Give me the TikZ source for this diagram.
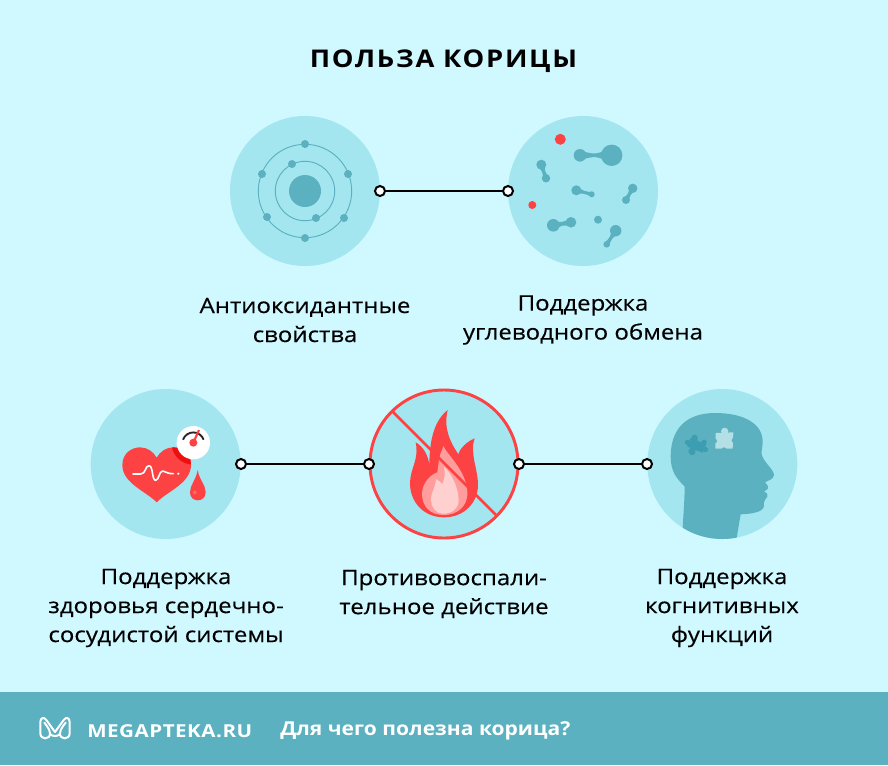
\documentclass[tikz,border=0pt]{standalone}
\usepackage{fontspec}
\setmainfont{Open Sans}
\newfontfamily\bodyf[FakeStretch=1.13,FakeBold=0.25]{Open Sans}
\newfontfamily\titlef[FakeStretch=1.12,LetterSpace=7]{Open Sans}
\newfontfamily\brandf[FakeStretch=1.15,LetterSpace=3]{Open Sans}
\newfontfamily\footf[FakeStretch=1.1]{Open Sans}
\usetikzlibrary{calc}
\definecolor{bgc}{HTML}{CFF8FF}
\definecolor{disc}{HTML}{A3E6F0}
\definecolor{teal1}{HTML}{5BB1BF}
\definecolor{red1}{HTML}{FC4242}
\definecolor{red2}{HTML}{EE1010}
\definecolor{pink1}{HTML}{FF9C9C}
\definecolor{pink2}{HTML}{FFD0D0}
\definecolor{puzl}{HTML}{B4DFE5}
\definecolor{puzd}{HTML}{3C9EB0}
\tikzset{
  discnode/.style={circle,fill=disc,minimum size=112.5pt,inner sep=0pt},
  ringnode/.style={circle,draw=black,fill=white,line width=1.5pt,minimum size=7.5pt,inner sep=0pt},
  linkline/.style={draw=black,line width=1.2pt},
  label/.style={align=center,font=\bodyf\fontsize{15.95pt}{21.75pt}\selectfont,text=black,inner sep=0pt},
  zoomA/.style={x=0.25pt,y=-0.25pt},
}
\newcommand\molc[7]{%
  \coordinate (ma) at (#1,#2);
  \coordinate (mb) at (#4,#5);
  \coordinate (mm) at ($(ma)!.5!(mb)$);
  \pgfmathsetmacro\ra{#3*.75*.75}
  \pgfmathsetmacro\rb{#6*.75*.75}
  \pgfmathsetmacro\wn{#7*.75}
  \fill[teal1] (ma) circle[radius=#3];
  \fill[teal1] (mb) circle[radius=#6];
  \fill[teal1] ($(ma)!\ra pt!90:(mb)$) .. controls ($(mm)!\wn pt!90:(mb)$) and ($(mm)!\wn pt!90:(mb)$) .. ($(mb)!\rb pt!-90:(ma)$)
     -- ($(mb)!\rb pt!90:(ma)$) .. controls ($(mm)!\wn pt!-90:(mb)$) and ($(mm)!\wn pt!-90:(mb)$) .. ($(ma)!\ra pt!-90:(mb)$) -- cycle;
}
\begin{document}
\begin{tikzpicture}[x=0.75pt,y=-0.75pt]
\useasboundingbox (0,0) rectangle (888,765);
\fill[bgc] (0,0) rectangle (888,765);
\fill[teal1] (0,692) rectangle (888,765);

\node[font=\titlef\bfseries\fontsize{18.3pt}{22pt}\selectfont,inner sep=0pt] (title) at (443.5,61) {ПОЛЬЗА КОРИЦЫ};

% discs
\node[discnode] (c1) at (305,191) {};
\node[discnode] (c2) at (583,191) {};
\node[discnode] (c3) at (165.7,464) {};
\node[discnode] (c4) at (444,464) {};
\node[discnode] (c5) at (722.3,464) {};

% atom
\fill[teal1] (c1.center) circle[radius=16];
\draw[teal1,line width=.7pt] (c1.center) circle[radius=29.7];
\draw[teal1,line width=.7pt] (c1.center) circle[radius=46.7];
\foreach \p in {(305,144),(262,174),(348,174),(267,217),(344,218),(305,238),(292,164),(316,218)}
  \fill[teal1] \p circle[radius=4];

% molecules
\fill[red1] (560.3,139.3) circle[radius=5.5];
\fill[red1] (532.3,205) circle[radius=4];
\molc{580}{155.3}{6.3}{611.7}{155.3}{10.7}{.4}
\molc{541.3}{164.7}{5}{546}{178.3}{4.2}{1}
\molc{576.3}{190.3}{5}{591.7}{194.3}{3}{1}
\molc{632.7}{188.3}{4.7}{626}{200}{4}{1}
\molc{553.3}{225.3}{6.3}{571}{222.3}{5.3}{1}
\molc{615.7}{230.7}{5.7}{606.7}{244.3}{3.3}{1}
\fill[teal1] (598,219.7) circle[radius=4];

% heart
\begin{scope}[shift={(90,385)},zoomA]
  \path[fill=red1] (200,352) .. controls (170,320) and (97,295) .. (97,240)
    .. controls (97,205) and (125,187) .. (150,187)
    .. controls (172,187) and (190,200) .. (200,218)
    .. controls (210,200) and (228,187) .. (250,187)
    .. controls (278,187) and (303,205) .. (303,240)
    .. controls (303,295) and (230,320) .. (200,352) -- cycle;
  \begin{scope}
    \clip (200,352) .. controls (170,320) and (97,295) .. (97,240)
    .. controls (97,205) and (125,187) .. (150,187)
    .. controls (172,187) and (190,200) .. (200,218)
    .. controls (210,200) and (228,187) .. (250,187)
    .. controls (278,187) and (303,205) .. (303,240)
    .. controls (303,295) and (230,320) .. (200,352) -- cycle;
    \fill[red2] (310,173) circle[radius=66];
  \end{scope}
  \fill[white] (310,173) circle[radius=50];
  \draw[black!85,line width=1.4pt] (279,164) .. controls (290,135) and (330,135) .. (341,164);
  \draw[red1,line width=1.6pt] (310,173) -- (327,135);
  \fill[red1] (310,173) circle[radius=12];
  \draw[white,line width=1.2pt,line cap=round,line join=round] (129,267) -- (152,267)
    .. controls (168,267) and (165,242) .. (177,242)
    .. controls (190,242) and (185,286) .. (197,286)
    .. controls (207,286) and (207,258) .. (218,258)
    .. controls (228,258) and (230,267) .. (250,266);
  \fill[white] (265,266) circle[radius=3.5];
  \fill[red1] (323,255) .. controls (318,285) and (300,300) .. (300,322)
    .. controls (300,338) and (312,346) .. (323,346)
    .. controls (335,346) and (347,338) .. (347,322)
    .. controls (347,300) and (328,285) .. (323,255) -- cycle;
  \fill[red1!60!pink1] (314,322) circle[radius=6];
\end{scope}

% flame
\begin{scope}[shift={(360,385)},zoomA]
  \draw[red1,line width=2.2pt] (252,237) circle[radius=222];
  \fill[red1] (252,397) .. controls (190,397) and (150,350) .. (150,295)
    .. controls (150,250) and (178,225) .. (167,172)
    .. controls (190,185) and (205,210) .. (208,242)
    .. controls (208,160) and (225,105) .. (263,75)
    .. controls (250,130) and (270,170) .. (295,208)
    .. controls (300,190) and (320,170) .. (344,160)
    .. controls (328,205) and (354,250) .. (354,300)
    .. controls (354,350) and (315,397) .. (252,397) -- cycle;
  \fill[pink1] (252,390) .. controls (210,390) and (186,365) .. (186,325)
    .. controls (186,295) and (212,268) .. (232,262)
    -- (237,222)
    .. controls (240,205) and (247,195) .. (250,183)
    .. controls (262,210) and (318,255) .. (322,320)
    .. controls (325,365) and (290,390) .. (252,390) -- cycle;
  \draw[red1,line width=1.9pt] (98,80) -- (408,390);
  \fill[pink2] (252,386) .. controls (225,386) and (213,365) .. (213,345)
    .. controls (213,320) and (228,305) .. (228,282)
    .. controls (236,287) and (243,292) .. (247,297)
    .. controls (255,280) and (255,262) .. (252,245)
    .. controls (275,265) and (296,310) .. (296,345)
    .. controls (296,370) and (275,386) .. (252,386) -- cycle;
\end{scope}

% head
\begin{scope}
  \clip (c5.center) circle[radius=75];
  \begin{scope}[shift={(640,385)},zoomA]
    \fill[teal1] (125,470) -- (128,428) .. controls (130,390) and (134,340) .. (134,305)
      .. controls (110,280) and (92,260) .. (92,215)
      .. controls (92,130) and (140,84) .. (225,84)
      .. controls (310,84) and (368,115) .. (368,170)
      .. controls (368,190) and (362,200) .. (366,212)
      .. controls (375,235) and (402,255) .. (402,270)
      .. controls (400,285) and (385,285) .. (375,292)
      .. controls (382,298) and (386,305) .. (384,310)
      .. controls (382,316) and (376,316) .. (372,319)
      .. controls (380,322) and (386,328) .. (382,335)
      .. controls (378,342) and (372,345) .. (372,352)
      .. controls (374,370) and (370,385) .. (302,388)
      -- (288,470) -- cycle;
  \end{scope}
\end{scope}
\begin{scope}[shift={(680,422)},zoomA]
  % light puzzle piece
  \fill[puzl] (107,33) -- (160,31) -- (158,80) -- (106,80) -- cycle;
  \fill[puzl] (134,28) circle[radius=11];
  \fill[teal1] (132,84) circle[radius=8];
  \fill[teal1] (163,55) circle[radius=8];
  \fill[teal1] (104,57) circle[radius=7];
  \fill[puzl] (146,62) circle[radius=6];
  % dark puzzle piece
  \begin{scope}[shift={(50,70)},rotate=-22]
    \fill[puzd] (-25,-14) rectangle (25,14);
    \fill[puzd] (-14,-18) circle[radius=10];
    \fill[puzd] (17,-17) circle[radius=8];
    \fill[puzd] (29,2) circle[radius=8];
    \fill[puzd] (-6,22) circle[radius=11];
    \fill[puzd] (-29,2) circle[radius=8];
  \end{scope}
\end{scope}

% rings and links
\node[ringnode] (r1) at (380,191) {};
\node[ringnode] (r2) at (508,191) {};
\node[ringnode] (r3) at (241,464) {};
\node[ringnode] (r4) at (369,464) {};
\node[ringnode] (r5) at (519,464) {};
\node[ringnode] (r6) at (647,464) {};
\draw[linkline] (r1) -- (r2);
\draw[linkline] (r3) -- (r4);
\draw[linkline] (r5) -- (r6);

% labels
\node[label] (t1) at (305,320) {Антиоксидантные\\свойства};
\node[label] (t2) at (583,320) {Поддержка\\углеводного обмена};
\node[label] (t3) at (166,608) {Поддержка\\здоровья сердечно-\\сосудистой системы};
\node[label] (t4) at (444,594) {Противовоспали-\\тельное действие};
\node[label] (t5) at (722,608) {Поддержка\\когнитивных\\функций};

% footer logo
\begin{scope}[shift={(35,712)},zoomA]
  \draw[white,line width=1.5pt,line join=round,line cap=round]
    (60,60) -- (34,24) .. controls (26,13) and (16,18) .. (16,30) -- (16,64)
    .. controls (16,84) and (46,84) .. (45,64) .. controls (44,52) and (36,42) .. (28,32)
    (60,60) -- (86,24) .. controls (94,13) and (104,18) .. (104,30) -- (104,64)
    .. controls (104,84) and (74,84) .. (75,64) .. controls (76,52) and (84,42) .. (92,32)
    (45,66) .. controls (52,74) and (68,74) .. (75,66);
\end{scope}
\node[anchor=west,text=white,inner sep=0pt,font=\brandf\bfseries\fontsize{13.4pt}{16pt}\selectfont] (brand) at (87,731) {MEGAPTEKA.RU};
\node[anchor=west,text=white,inner sep=0pt,font=\footf\bfseries\fontsize{14.35pt}{16pt}\selectfont] (tag) at (280,731) {Для чего полезна корица?};
\end{tikzpicture}
\end{document}
